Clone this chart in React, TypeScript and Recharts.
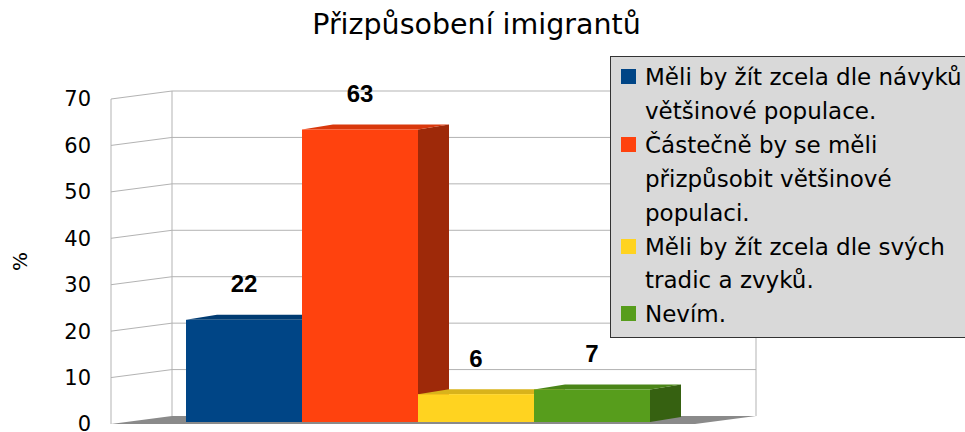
import { BarChart, Bar, XAxis, YAxis, CartesianGrid, LabelList, Label } from 'recharts';

const title = 'Přizpůsobení imigrantů';
const yAxisLabel = '%';
const seriesKeys = ['navyky', 'castecne', 'tradice', 'nevim'];
const seriesNames = [
  'Měli by žít zcela dle návyků většinové populace.',
  'Částečně by se měli přizpůsobit většinové populaci.',
  'Měli by žít zcela dle svých tradic a zvyků.',
  'Nevím.',
];
const seriesValues = [22, 63, 6, 7];
const seriesColors = ['#004586', '#ff420e', '#ffd320', '#579d1c'];
const yTicks = [0, 10, 20, 30, 40, 50, 60, 70];

// one category holding the four answers side by side
const chartData = [
  seriesKeys.reduce<Record<string, number | string>>(
    (row, key, i) => {
      row[key] = seriesValues[i];
      return row;
    },
    { name: '' },
  ),
];

// 3D look: wall depth and bar depth (px)
const WALL_DX = 61;
const WALL_DY = -8;
const BAR_DX = 31;
const BAR_DY = -5;
const BAR_LIFT = 2;

function shade(hex: string, f: number) {
  const n = parseInt(hex.slice(1), 16);
  const r = Math.round(((n >> 16) & 255) * f);
  const g = Math.round(((n >> 8) & 255) * f);
  const b = Math.round((n & 255) * f);
  return `rgb(${r},${g},${b})`;
}

function GridLine(props: any) {
  const { x1, y1, x2, y, height } = props;
  const bottom = y + height;
  if (Math.abs(y1 - bottom) < 0.5) {
    // floor + wall edges
    return (
      <g>
        <line x1={x1} y1={y} x2={x1} y2={bottom} stroke="#b3b3b3" />
        <line x1={x1 + WALL_DX} y1={y + WALL_DY} x2={x1 + WALL_DX} y2={bottom + WALL_DY} stroke="#b3b3b3" />
        <line x1={x2 + WALL_DX} y1={y + WALL_DY} x2={x2 + WALL_DX} y2={bottom + WALL_DY} stroke="#b3b3b3" />
        <polygon
          points={`${x1},${y1} ${x1 + WALL_DX},${y1 + WALL_DY} ${x2 + WALL_DX},${y1 + WALL_DY} ${x2},${y1}`}
          fill="#8a8a8a"
        />
      </g>
    );
  }
  return (
    <path
      d={`M${x1},${y1} L${x1 + WALL_DX},${y1 + WALL_DY} L${x2 + WALL_DX},${y1 + WALL_DY}`}
      stroke="#b3b3b3"
      fill="none"
    />
  );
}

function Bar3D(props: any) {
  const { x, y, width, height, fill } = props;
  if (!width || height == null) return null;
  const top = y - BAR_LIFT;
  const bottom = y + height - BAR_LIFT;
  const right = x + width;
  return (
    <g>
      <polygon
        points={`${right},${top} ${right + BAR_DX},${top + BAR_DY} ${right + BAR_DX},${bottom + BAR_DY} ${right},${bottom}`}
        fill={shade(fill, 0.62)}
      />
      <polygon
        points={`${x},${top} ${x + BAR_DX},${top + BAR_DY} ${right + BAR_DX},${top + BAR_DY} ${right},${top}`}
        fill={shade(fill, 0.85)}
      />
      <rect x={x} y={top} width={width} height={height} fill={fill} />
    </g>
  );
}

function ValueLabel(props: any) {
  const vb = props.viewBox ?? props;
  const x = vb.x ?? props.x;
  const y = vb.y ?? props.y;
  const width = vb.width ?? props.width;
  return (
    <text
      x={x + width / 2}
      y={y - BAR_LIFT - 36}
      textAnchor="middle"
      dominantBaseline="central"
      fontFamily="Liberation Sans"
      fontWeight="bold"
      fontSize={24}
      fill="#000"
    >
      {props.value}
    </text>
  );
}

function YTitle(props: any) {
  const vb = props.viewBox;
  const cx = vb.x - 31;
  const cy = vb.y + vb.height / 2;
  return (
    <text
      x={cx}
      y={cy}
      transform={`rotate(-90 ${cx} ${cy})`}
      textAnchor="middle"
      dominantBaseline="central"
      fontFamily="DejaVu Sans"
      fontSize={20}
      fill="#000"
    >
      {yAxisLabel}
    </text>
  );
}

export default function App() {
  return (
    <div
      style={{
        position: 'relative',
        width: 965,
        height: 432,
        overflow: 'hidden',
        background: '#fff',
        fontFamily: 'DejaVu Sans',
      }}
    >
      <style>{'body{margin:0;overflow:hidden}'}</style>
      <div
        style={{
          position: 'absolute',
          left: 0,
          top: 11,
          width: 953,
          textAlign: 'center',
          fontSize: 28.5,
          lineHeight: 1,
          color: '#000',
        }}
      >
        {title}
      </div>
      <BarChart
        width={965}
        height={432}
        data={chartData}
        margin={{ top: 99, right: 270, bottom: 8, left: 51 }}
        barGap={0}
        barCategoryGap={45}
      >
        <CartesianGrid horizontal={GridLine} vertical={false} />
        <XAxis dataKey="name" hide padding={{ left: 30, right: 0 }} />
        <YAxis
          width={60}
          domain={[0, 70]}
          ticks={yTicks}
          interval={0}
          axisLine={false}
          tickLine={false}
          tickMargin={14}
          tick={{ fontSize: 21, fill: '#000', fontFamily: 'DejaVu Sans' }}
          label={<Label content={YTitle} />}
        />
        {seriesKeys.map((key, i) => (
          <Bar
            key={key}
            dataKey={key}
            name={seriesNames[i]}
            fill={seriesColors[i]}
            shape={<Bar3D />}
            isAnimationActive={false}
          >
            <LabelList dataKey={key} content={ValueLabel} />
          </Bar>
        ))}
      </BarChart>
      <div
        style={{
          position: 'absolute',
          left: 610,
          top: 56,
          width: 370,
          height: 282,
          boxSizing: 'border-box',
          background: '#d9d9d9',
          border: '1px solid #333',
          padding: '4px 0 0 10px',
          fontSize: 23,
          lineHeight: '33.9px',
          color: '#000',
        }}
      >
        {seriesNames.map((name, i) => (
          <div key={name} style={{ display: 'flex', alignItems: 'flex-start' }}>
            <div
              style={{
                width: 15,
                height: 15,
                marginTop: 8,
                marginRight: 9,
                flex: '0 0 auto',
                background: seriesColors[i],
              }}
            />
            <div style={{ width: 335 }}>{name}</div>
          </div>
        ))}
      </div>
    </div>
  );
}
